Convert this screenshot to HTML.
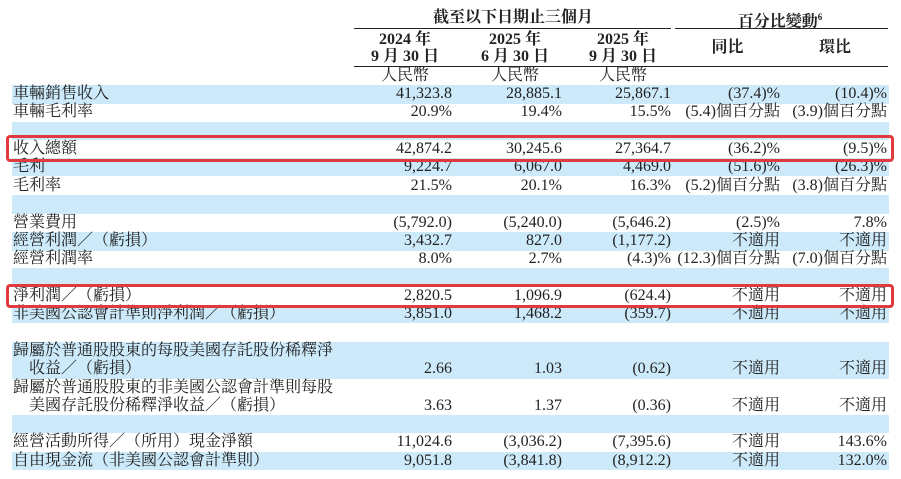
<!DOCTYPE html>
<html><head><meta charset="utf-8"><style>
body{margin:0;background:#fff;width:901px;height:479px;position:relative;overflow:hidden;font-family:"Liberation Serif","Noto Serif CJK SC",serif;font-size:16px;color:#222;}
.b{position:absolute;left:12px;width:877px;background:#cdeafb;}
.r{position:absolute;left:0;width:901px;height:18.5px;line-height:18.5px;white-space:nowrap;}
.r span{position:absolute;}
.l{left:13px;}
.c1{right:449px}.c2{right:339px}.c3{right:230px}.c4{right:121px}.c5{right:14px}
.h{position:absolute;font-weight:bold;text-align:center;white-space:nowrap;line-height:17px;}
.ln{position:absolute;height:1.3px;background:#222;}
.box{position:absolute;border:3px solid #e03a3f;border-radius:4px;}
</style></head><body>
<div class="b" style="top:85px;height:19px"></div>
<div class="b" style="top:122px;height:18px"></div>
<div class="b" style="top:158px;height:18px"></div>
<div class="b" style="top:195px;height:19px"></div>
<div class="b" style="top:232px;height:19px"></div>
<div class="b" style="top:268px;height:19px"></div>
<div class="b" style="top:305px;height:18px"></div>
<div class="b" style="top:342px;height:37px"></div>
<div class="b" style="top:415px;height:18px"></div>
<div class="b" style="top:452px;height:18px"></div>

<div class="h" style="left:354px;width:318px;top:9px">截至以下日期止三個月</div>
<div class="h" style="left:672px;width:216px;top:9px">百分比變動<sup style="font-size:9px">6</sup></div>
<div class="ln" style="left:354px;width:317px;top:28px"></div>
<div class="ln" style="left:675px;width:213px;top:28px"></div>
<div class="h" style="left:356px;width:98px;top:31px">2024 年<br>9 月 30 日</div>
<div class="h" style="left:466px;width:98px;top:31px">2025 年<br>6 月 30 日</div>
<div class="h" style="left:574px;width:98px;top:31px">2025 年<br>9 月 30 日</div>
<div class="h" style="left:680px;width:95px;top:39px">同比</div>
<div class="h" style="left:785px;width:100px;top:39px">環比</div>
<div class="ln" style="left:354px;width:534px;top:66px"></div>
<div class="h" style="left:356px;width:98px;top:67px;font-weight:normal">人民幣</div>
<div class="h" style="left:466px;width:98px;top:67px;font-weight:normal">人民幣</div>
<div class="h" style="left:574px;width:98px;top:67px;font-weight:normal">人民幣</div>

<div class="r" style="top:85px"><span class="l">車輛銷售收入</span><span class="c1">41,323.8</span><span class="c2">28,885.1</span><span class="c3">25,867.1</span><span class="c4">(37.4)%</span><span class="c5">(10.4)%</span></div>
<div class="r" style="top:103px"><span class="l">車輛毛利率</span><span class="c1">20.9%</span><span class="c2">19.4%</span><span class="c3">15.5%</span><span class="c4">(5.4)個百分點</span><span class="c5">(3.9)個百分點</span></div>
<div class="r" style="top:140px"><span class="l">收入總額</span><span class="c1">42,874.2</span><span class="c2">30,245.6</span><span class="c3">27,364.7</span><span class="c4">(36.2)%</span><span class="c5">(9.5)%</span></div>
<div class="r" style="top:158px"><span class="l">毛利</span><span class="c1">9,224.7</span><span class="c2">6,067.0</span><span class="c3">4,469.0</span><span class="c4">(51.6)%</span><span class="c5">(26.3)%</span></div>
<div class="r" style="top:177px"><span class="l">毛利率</span><span class="c1">21.5%</span><span class="c2">20.1%</span><span class="c3">16.3%</span><span class="c4">(5.2)個百分點</span><span class="c5">(3.8)個百分點</span></div>
<div class="r" style="top:214px"><span class="l">營業費用</span><span class="c1">(5,792.0)</span><span class="c2">(5,240.0)</span><span class="c3">(5,646.2)</span><span class="c4">(2.5)%</span><span class="c5">7.8%</span></div>
<div class="r" style="top:232px"><span class="l">經營利潤／（虧損）</span><span class="c1">3,432.7</span><span class="c2">827.0</span><span class="c3">(1,177.2)</span><span class="c4">不適用</span><span class="c5">不適用</span></div>
<div class="r" style="top:250px"><span class="l">經營利潤率</span><span class="c1">8.0%</span><span class="c2">2.7%</span><span class="c3">(4.3)%</span><span class="c4">(12.3)個百分點</span><span class="c5">(7.0)個百分點</span></div>
<div class="r" style="top:287px"><span class="l">淨利潤／（虧損）</span><span class="c1">2,820.5</span><span class="c2">1,096.9</span><span class="c3">(624.4)</span><span class="c4">不適用</span><span class="c5">不適用</span></div>
<div class="r" style="top:305px"><span class="l">非美國公認會計準則淨利潤／（虧損）</span><span class="c1">3,851.0</span><span class="c2">1,468.2</span><span class="c3">(359.7)</span><span class="c4">不適用</span><span class="c5">不適用</span></div>
<div class="r" style="top:342px"><span class="l">歸屬於普通股股東的每股美國存託股份稀釋淨</span></div>
<div class="r" style="top:360px"><span class="l" style="left:29px">收益／（虧損）</span><span class="c1">2.66</span><span class="c2">1.03</span><span class="c3">(0.62)</span><span class="c4">不適用</span><span class="c5">不適用</span></div>
<div class="r" style="top:379px"><span class="l">歸屬於普通股股東的非美國公認會計準則每股</span></div>
<div class="r" style="top:397px"><span class="l" style="left:29px">美國存託股份稀釋淨收益／（虧損）</span><span class="c1">3.63</span><span class="c2">1.37</span><span class="c3">(0.36)</span><span class="c4">不適用</span><span class="c5">不適用</span></div>
<div class="r" style="top:433px"><span class="l">經營活動所得／（所用）現金淨額</span><span class="c1">11,024.6</span><span class="c2">(3,036.2)</span><span class="c3">(7,395.6)</span><span class="c4">不適用</span><span class="c5">143.6%</span></div>
<div class="r" style="top:452px"><span class="l">自由現金流（非美國公認會計準則）</span><span class="c1">9,051.8</span><span class="c2">(3,841.8)</span><span class="c3">(8,912.2)</span><span class="c4">不適用</span><span class="c5">132.0%</span></div>

<div class="box" style="left:6px;top:135px;width:882px;height:21px"></div>
<div class="box" style="left:6px;top:284px;width:882px;height:18px"></div>
</body></html>
